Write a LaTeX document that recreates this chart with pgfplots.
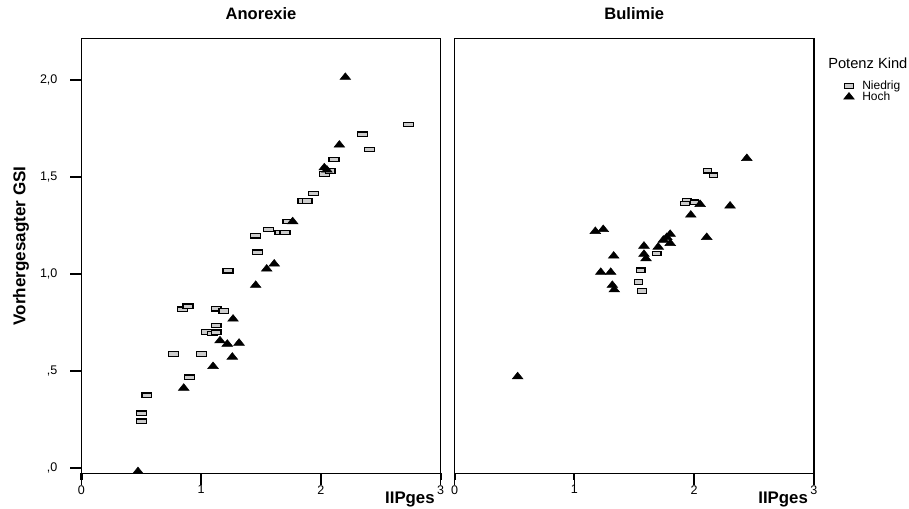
\documentclass[border=0pt]{standalone}
\usepackage{pgfplots}
\pgfplotsset{compat=1.18}
\usepackage{fontspec}
\setmainfont{Liberation Sans}

\tikzset{tickmk/.style={line width=1.6pt, black}}
\pgfplotsset{
  panel/.style={
    scale only axis, width=269.4pt, height=326.1pt,
    xmin=0, xmax=3, ymin=-0.027, ymax=2.214,
    xtick={0,1,2,3},
    axis line style={line width=1pt},
    tick align=outside,
    tick pos=left,
    major tick length=8.5pt,
    every tick/.style={black, line width=1.2pt},
    clip=false,
    /pgf/number format/assume math mode=true,
    ticklabel style={font=\fontsize{9.4}{11}\selectfont},
    xticklabel style={yshift=3pt},
    title style={at={(axis description cs:0.5,1)}, anchor=base, yshift=7.9pt,
      font=\bfseries\fontsize{12.4}{14}\selectfont},
    xlabel={IIPges},
    xlabel style={at={(axis description cs:1,0)}, anchor=north east, inner sep=0pt,
      xshift=-4.3pt, yshift=-14pt, font=\bfseries\fontsize{12.6}{14}\selectfont},
  },
  niedrig/.style={only marks, mark=square*, mark size=3.7pt,
    mark options={yscale=0.45, fill=gray!40, draw=black, line width=0.9pt}},
  hoch/.style={only marks, mark=triangle*, mark size=4.6pt,
    mark options={yscale=0.72, fill=black, draw=black}},
}

\begin{document}
\begin{tikzpicture}
\useasboundingbox (0,0) rectangle (681.75pt,381.75pt);

% Anorexie
\begin{axis}[panel, at={(61.1pt,26.8pt)}, anchor=south west,
  title={Anorexie},
  ytick={0,0.5,1,1.5,2},
  yticklabels={{,0},{,5},{1,0},{1,5},{2,0}},
  yticklabel style={xshift=-6pt},
  ylabel={Vorhergesagter GSI},
  ylabel style={at={(axis description cs:-0.168,0.523)}, anchor=center,
    font=\bfseries\fontsize{12.8}{14}\selectfont},
]
\addplot[niedrig] coordinates {
 (0.503,0.282) (0.503,0.241) (0.547,0.375) (0.845,0.818) (0.890,0.834)
 (1.124,0.821) (1.190,0.809) (1.124,0.734) (1.046,0.701) (1.096,0.694)
 (1.124,0.700) (0.767,0.588) (1.001,0.588) (0.900,0.468) (1.224,1.017)
 (1.469,1.112) (1.455,1.197) (1.564,1.230) (1.658,1.213) (1.700,1.213)
 (1.725,1.270) (1.850,1.376) (1.884,1.376) (1.937,1.414) (2.028,1.515)
 (2.076,1.531) (2.109,1.591) (2.346,1.720) (2.404,1.641) (2.730,1.770)
};
\addplot[hoch] coordinates {
 (2.204,2.014) (2.154,1.665) (2.028,1.548) (2.050,1.536) (1.764,1.270)
 (1.547,1.026) (1.610,1.052) (1.455,0.942) (1.266,0.768) (1.157,0.656)
 (1.218,0.639) (1.316,0.644) (1.260,0.572) (1.099,0.524) (0.854,0.412)
 (0.472,-0.018)
};
% tick marks
\draw[tickmk] (axis cs:0,0) -- (axis cs:-0.071,0);
\draw[tickmk] (axis cs:0,0.5) -- (axis cs:-0.071,0.5);
\draw[tickmk] (axis cs:0,1) -- (axis cs:-0.071,1);
\draw[tickmk] (axis cs:0,1.5) -- (axis cs:-0.071,1.5);
\draw[tickmk] (axis cs:0,2) -- (axis cs:-0.071,2);
\draw[tickmk] (axis cs:0,-0.027) -- (axis cs:0,-0.064);
\draw[tickmk] (axis cs:1,-0.027) -- (axis cs:1,-0.064);
\draw[tickmk] (axis cs:2,-0.027) -- (axis cs:2,-0.064);
\draw[tickmk] (axis cs:3,-0.027) -- (axis cs:3,-0.064);
\end{axis}

% Bulimie
\begin{axis}[panel, at={(341.0pt,26.8pt)}, anchor=south west,
  title={Bulimie},
  ytick=\empty,
  legend style={at={(axis description cs:1.083,0.9034)}, anchor=north west,
    draw=none, fill=none, inner sep=0pt, outer sep=0pt, row sep=0pt,
    nodes={inner sep=0pt, text height=6.5pt, text depth=1.75pt},
    /tikz/every odd column/.append style={column sep=6pt},
    font=\fontsize{9}{10}\selectfont},
  legend cell align=left,
]
\addplot[niedrig, mark options={yscale=0.45, xscale=0.85, fill=gray!40, draw=black, line width=0.9pt}] coordinates {
 (2.110,1.532) (2.160,1.509) (1.938,1.378) (1.924,1.364) (2.002,1.370)
 (1.688,1.105) (1.554,1.019) (1.534,0.959) (1.565,0.912)
};
\addlegendentry{Niedrig}
\addplot[hoch] coordinates {
 (2.440,1.596) (2.050,1.359) (2.300,1.351) (1.972,1.304) (1.175,1.220)
 (1.241,1.230) (1.800,1.205) (1.771,1.189) (1.743,1.175) (1.800,1.158)
 (2.105,1.189) (1.581,1.144) (1.700,1.139) (1.328,1.093) (1.581,1.102)
 (1.598,1.079) (1.220,1.009) (1.303,1.009) (1.317,0.942) (1.333,0.919)
 (0.526,0.471)
};
\addlegendentry{Hoch}
\draw[tickmk] (axis cs:0,-0.027) -- (axis cs:0,-0.064);
\draw[tickmk] (axis cs:1,-0.027) -- (axis cs:1,-0.064);
\draw[tickmk] (axis cs:2,-0.027) -- (axis cs:2,-0.064);
\draw[tickmk] (axis cs:3,-0.027) -- (axis cs:3,-0.064);
\end{axis}

\node[anchor=base west, inner sep=0pt, font=\fontsize{11}{13}\selectfont]
  at (621pt,330.5pt) {Potenz Kind};
\end{tikzpicture}
\end{document}
